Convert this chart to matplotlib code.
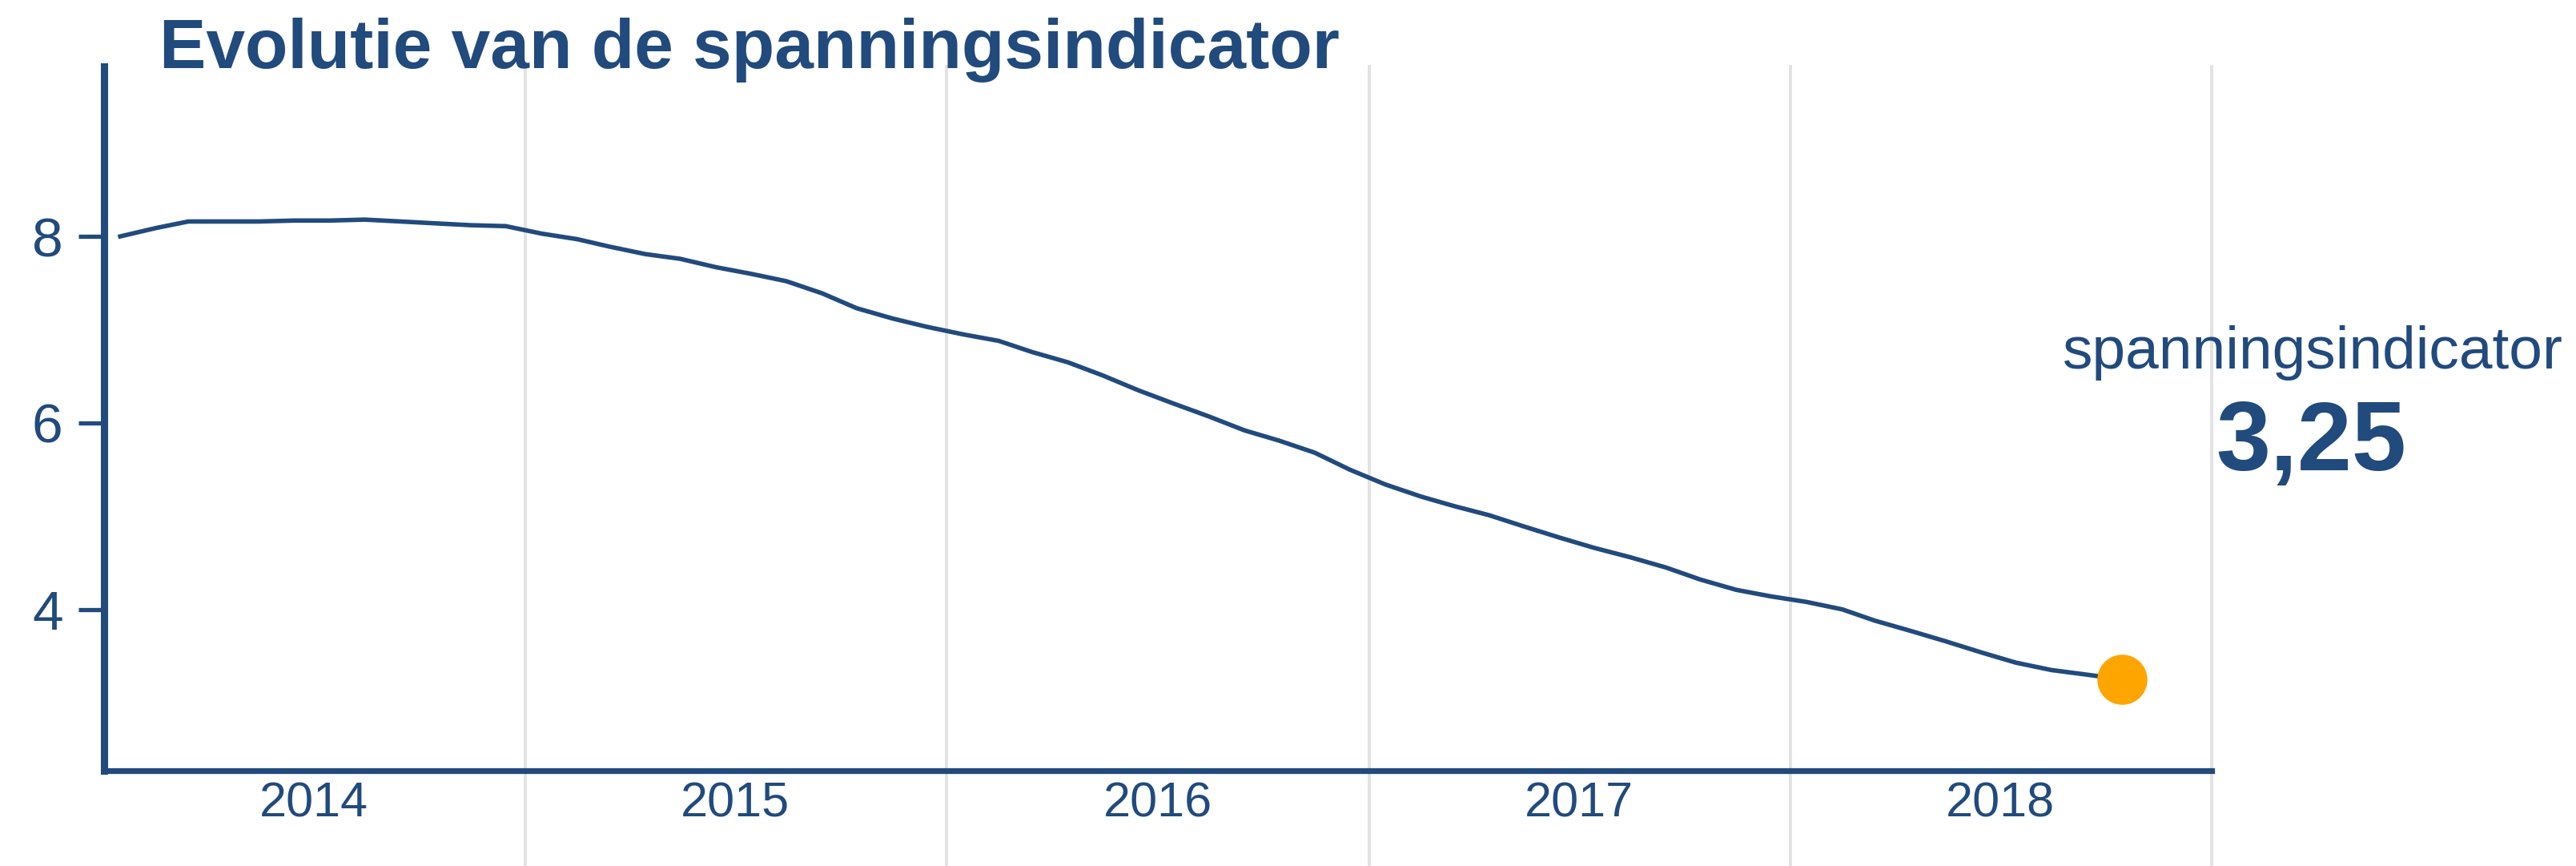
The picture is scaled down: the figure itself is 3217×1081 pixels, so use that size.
#!/usr/bin/env python3
"""
Evolutie van de spanningsindicator - line chart with highlighted last value
"""
import matplotlib
matplotlib.use('Agg')
import matplotlib.pyplot as plt
import matplotlib.dates as mdates
import pandas as pd

# monthly values, Jan 2014 - Oct 2018
months = pd.date_range('2014-01-01', '2018-10-01', freq='MS') + pd.Timedelta(days=14)
values = [8.00, 8.09, 8.16, 8.16, 8.16, 8.17, 8.17, 8.18, 8.16, 8.14, 8.12, 8.11,
          8.03, 7.97, 7.89, 7.81, 7.76, 7.67, 7.60, 7.52, 7.39, 7.23, 7.12, 7.03,
          6.95, 6.88, 6.76, 6.65, 6.51, 6.35, 6.21, 6.07, 5.92, 5.81, 5.68, 5.50,
          5.34, 5.21, 5.11, 5.01, 4.89, 4.77, 4.66, 4.56, 4.45, 4.32, 4.21, 4.14,
          4.08, 4.00, 3.88, 3.77, 3.66, 3.54, 3.43, 3.35, 3.30, 3.25]
years = [2014, 2015, 2016, 2017, 2018]
y_ticks = [4, 6, 8]

title = 'Evolutie van de spanningsindicator'
label = 'spanningsindicator'
last_value = '3,25'

BLUE = '#214a7d'
ORANGE = '#ffa500'
GRID = '#e2e2e2'

plt.rcParams['font.family'] = ['Liberation Sans', 'DejaVu Sans']

fig = plt.figure(figsize=(32.17, 10.81), dpi=100)
ax = fig.add_axes([0.0404, 0.110, 0.8182, 0.813])

# main line and last point
ax.plot(months, values, color=BLUE, lw=4, solid_joinstyle='round', zorder=3)
ax.plot(months[-1], values[-1], 'o', color=ORANGE, markersize=44, zorder=4)

# axes ranges
ax.set_xlim(pd.Timestamp('2014-01-01'), pd.Timestamp('2019-01-01'))
ax.set_ylim(2.27, 9.82)

# vertical year separators, running down through the labels
for yr in years[1:] + [2019]:
    ax.axvline(pd.Timestamp(f'{yr}-01-01'), ymin=-0.136, ymax=1, color=GRID,
               lw=2.8, zorder=0, clip_on=False)

# year labels centred in each year
ax.xaxis.set_major_locator(mdates.YearLocator())
ax.xaxis.set_major_formatter(plt.NullFormatter())
ax.set_xticks([pd.Timestamp(f'{yr}-07-02') for yr in years], minor=True)
ax.set_xticklabels([str(yr) for yr in years], minor=True)
ax.tick_params(axis='x', which='both', length=0, labelsize=44, labelcolor=BLUE, pad=10)

ax.set_yticks(y_ticks)
ax.tick_params(axis='y', length=23, width=3.8, color=BLUE, labelsize=50,
               labelcolor=BLUE, pad=14)

for side in ['top', 'right']:
    ax.spines[side].set_visible(False)
ax.spines['left'].set_linewidth(6.5)
ax.spines['bottom'].set_linewidth(5.2)
ax.spines['left'].set_color(BLUE)
ax.spines['bottom'].set_color(BLUE)

# title
fig.text(0.062, 1 - 85 / 1081, title, fontsize=63, fontweight='bold', color=BLUE,
         ha='left', va='baseline')

# annotation of last value
fig.text(2888 / 3217, 1 - 460 / 1081, label, fontsize=54, color=BLUE,
         ha='center', va='baseline')
fig.text(2886 / 3217, 1 - 587 / 1081, last_value, fontsize=88, fontweight='bold',
         color=BLUE, ha='center', va='baseline')

plt.savefig('out.png', dpi=100)
